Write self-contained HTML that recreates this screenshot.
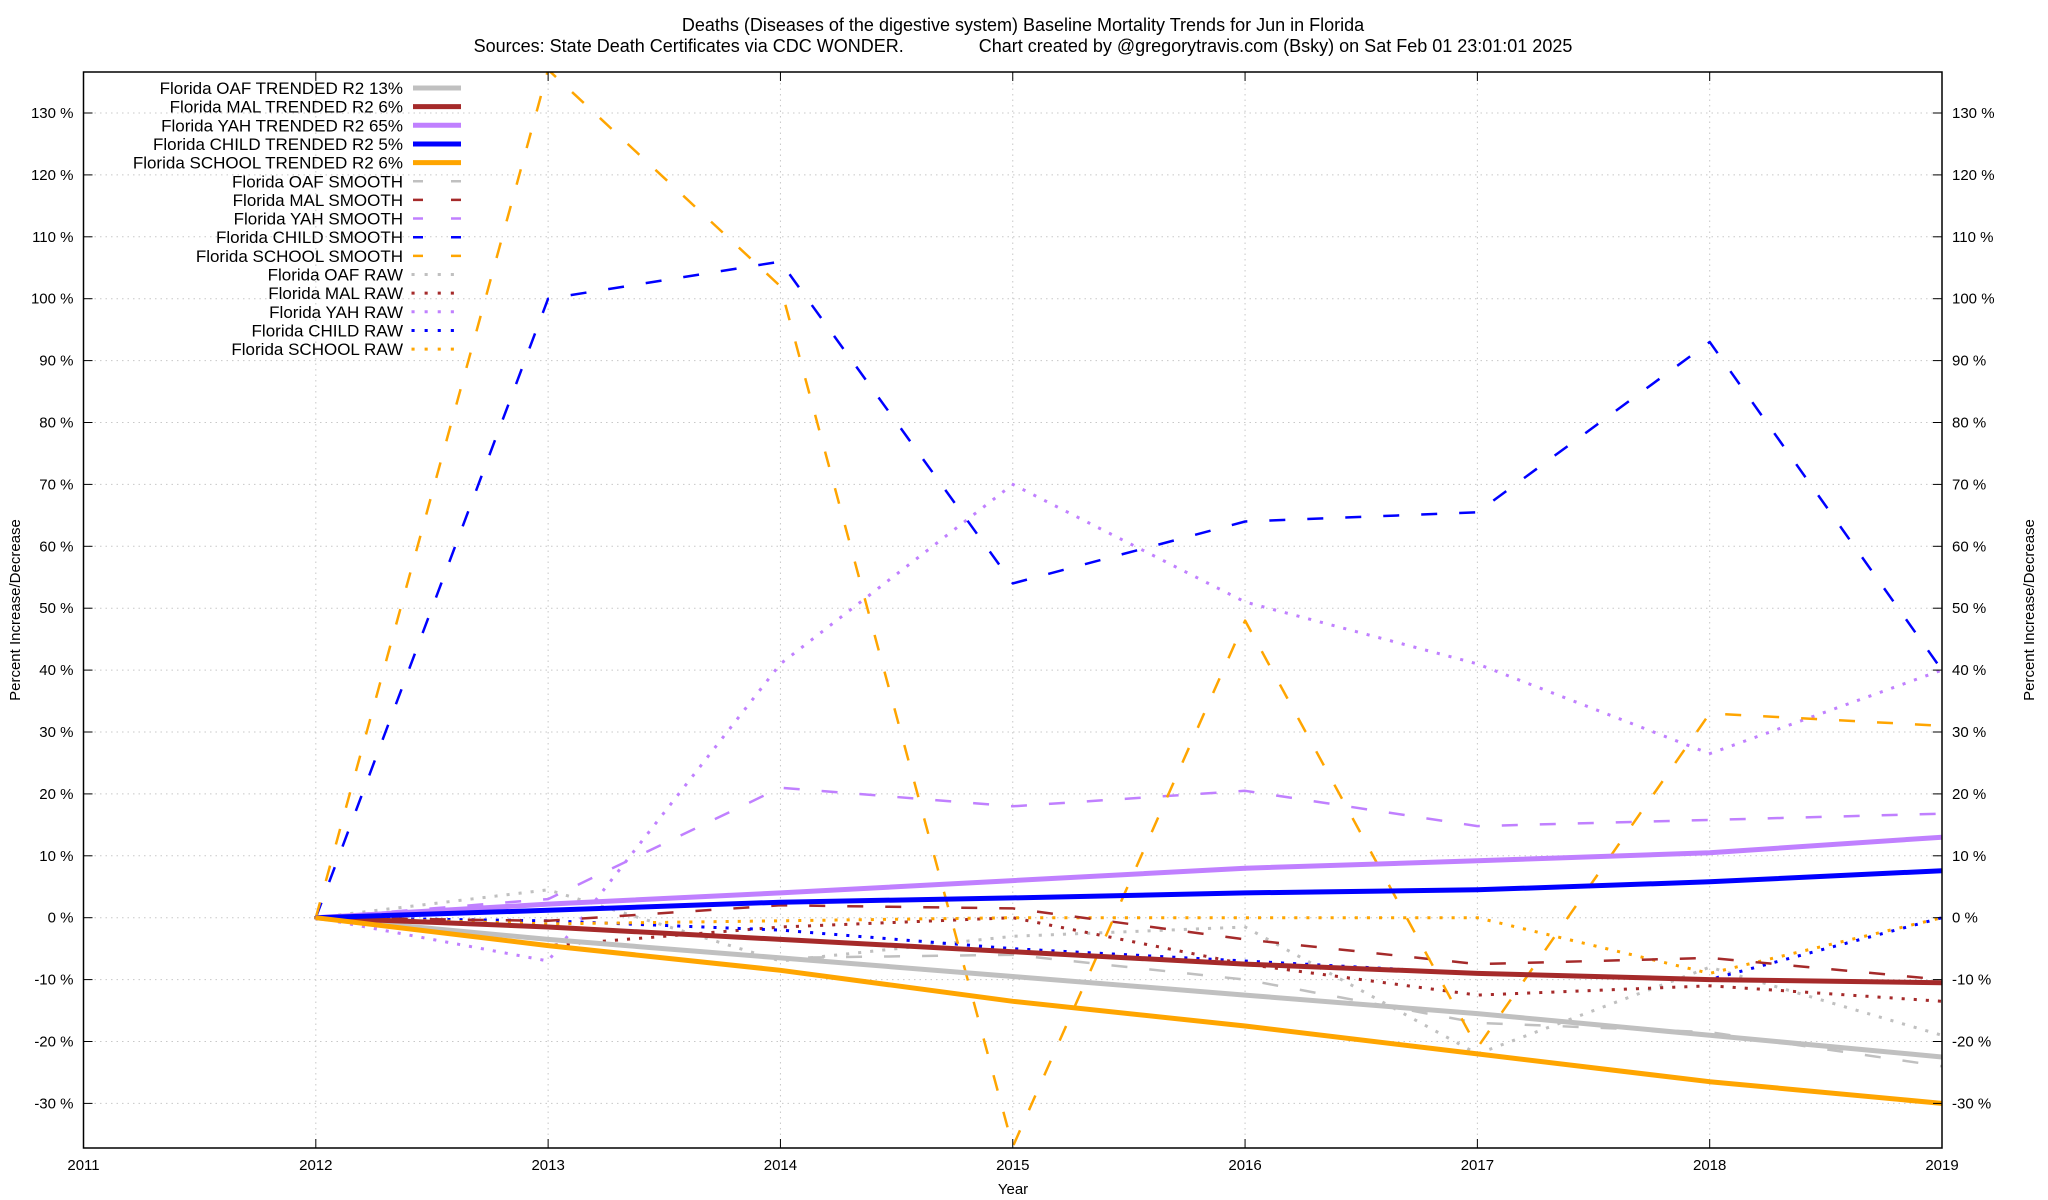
<!DOCTYPE html>
<html><head><meta charset="utf-8"><style>
html,body{margin:0;padding:0;background:#fff;}
svg{display:block;font-family:"Liberation Sans",Arial,sans-serif;}
</style></head><body>
<svg id="chart" width="2048" height="1200" viewBox="0 0 2048 1200" xmlns="http://www.w3.org/2000/svg">
<text x="1023" y="31" font-size="18" text-anchor="middle">Deaths (Diseases of the digestive system)  Baseline Mortality Trends for Jun in Florida</text>
<text x="1023" y="52" font-size="18" text-anchor="middle" xml:space="preserve">Sources: State Death Certificates via CDC WONDER.               Chart created by @gregorytravis.com (Bsky) on Sat Feb 01 23:01:01 2025</text>
<text x="1013" y="1194" font-size="15" text-anchor="middle">Year</text>
<text transform="translate(20,610) rotate(-90)" font-size="15" text-anchor="middle">Percent Increase/Decrease</text>
<text transform="translate(2034,610) rotate(-90)" font-size="15" text-anchor="middle">Percent Increase/Decrease</text>
<g id="grid"></g><g id="series"></g><g id="axes"></g><g id="legend"></g>
</svg>
<script>
const years = [2012,2013,2014,2015,2016,2017,2018,2019];
const xTicks = [2011,2012,2013,2014,2015,2016,2017,2018,2019];
const yTicks = [-30,-20,-10,0,10,20,30,40,50,60,70,80,90,100,110,120,130];
const names = ["Florida OAF TRENDED R2  13%","Florida MAL TRENDED R2   6%","Florida YAH TRENDED R2  65%","Florida CHILD TRENDED R2   5%","Florida SCHOOL TRENDED R2   6%","Florida OAF SMOOTH","Florida MAL SMOOTH","Florida YAH SMOOTH","Florida CHILD SMOOTH","Florida SCHOOL SMOOTH","Florida OAF RAW","Florida MAL RAW","Florida YAH RAW","Florida CHILD RAW","Florida SCHOOL RAW"];
const oafTrend = [0,-3.5,-6.5,-9.5,-12.5,-15.5,-19,-22.5];
const malTrend = [0,-1.5,-3.5,-5.5,-7.5,-9,-10,-10.5];
const yahTrend = [0,2.2,4,6,8,9.2,10.5,13];
const childTrend = [0,1.2,2.5,3.2,4,4.5,5.8,7.6];
const schoolTrend = [0,-4.5,-8.5,-13.5,-17.5,-22,-26.5,-30];
const oafSmooth = [0,-3.5,-6.5,-6,-10,-17,-18.5,-24];
const malSmooth = [0,-0.5,2,1.5,-3.5,-7.5,-6.5,-10];
const yahSmooth = [0,3,21,18,20.5,14.8,15.8,16.8];
const childSmooth = [0,100,106,54,64,65.5,93,40];
const schoolSmooth = [0,137,102,-37,48,-21,33,31];
const oafRaw = [0,4.5,-7,-3,-1.5,-22,-8,-19];
const malRaw = [0,-4.5,-1.5,0,-7.5,-12.5,-11,-13.5];
const yahRaw = [0,-7,41,70,51,41,26.5,40];
const childRaw = [0,-0.5,-2,-5,-7,-9,-10,0];
const schoolRaw = [0,-1,-0.5,0,0,0,-9,0];

const NS="http://www.w3.org/2000/svg";
const L=83.5,R=1942,T=72,B=1148,Y0=917.7,PY=6.19;
const xS=v=>L+(v-2011)*(R-L)/8;
const yS=v=>Y0-v*PY;
function mk(tag,attrs,parent){const e=document.createElementNS(NS,tag);for(const k in attrs)e.setAttribute(k,attrs[k]);parent.appendChild(e);return e;}
const grid=document.getElementById('grid'),axes=document.getElementById('axes'),ser=document.getElementById('series'),leg=document.getElementById('legend');
yTicks.forEach(v=>{
  const y=yS(v);
  const g=mk('line',{x1:L,x2:R,y1:y,y2:y,stroke:'#c8c8c8','stroke-width':1,'stroke-dasharray':'1.5,4'},grid);
  
  
  mk('line',{x1:L,x2:L+9,y1:y,y2:y,stroke:'#000'},axes);
  mk('line',{x1:R-9,x2:R,y1:y,y2:y,stroke:'#000'},axes);
  const t1=mk('text',{x:L-10,y:y+5,'font-size':15,'text-anchor':'end'},axes);t1.textContent=v+' %';
  
  
  const t2=mk('text',{x:R+10,y:y+5,'font-size':15},axes);t2.textContent=v+' %';
  
  
});
xTicks.forEach(v=>{
  const x=xS(v);
  const g=mk('line',{x1:x,x2:x,y1:T,y2:B,stroke:'#c8c8c8','stroke-width':1,'stroke-dasharray':'1.5,4'},grid);
  
  
  mk('line',{x1:x,x2:x,y1:B,y2:B-9,stroke:'#000'},axes);
  mk('line',{x1:x,x2:x,y1:T,y2:T+9,stroke:'#000'},axes);
  const t=mk('text',{x:x,y:B+22,'font-size':15,'text-anchor':'middle'},axes);t.textContent=v;
  
  
});
const fr=mk('rect',{x:L,y:T,width:R-L,height:B-T,fill:'none',stroke:'#000','stroke-width':1.5},axes);


const cols=['#c0c0c0','#a52a2a','#c080ff','#0000ff','#ffa500'];
const data=[oafTrend,malTrend,yahTrend,childTrend,schoolTrend,oafSmooth,malSmooth,yahSmooth,childSmooth,schoolSmooth,oafRaw,malRaw,yahRaw,childRaw,schoolRaw];
const styles=[{w:5,d:null},{w:2.5,d:'16,22'},{w:3,d:'0.1,12'}];
mk('clipPath',{id:'clip'},ser).appendChild((()=>{const r=document.createElementNS(NS,'rect');r.setAttribute('x',L);r.setAttribute('y',T);r.setAttribute('width',R-L);r.setAttribute('height',B-T);return r;})());
const order=[10,11,12,13,14,5,6,7,8,9,0,1,2,3,4];
order.forEach(i=>{
  const st=styles[Math.floor(i/5)],c=cols[i%5];
  const pts=years.map((yr,j)=>xS(yr).toFixed(1)+','+yS(data[i][j]).toFixed(1)).join(' ');
  const a={points:pts,fill:'none',stroke:c,'stroke-width':st.w,'clip-path':'url(#clip)','stroke-linejoin':'round'};
  if(st.d){a['stroke-dasharray']=st.d;a['stroke-linecap']=i>=10?'square':'butt';}
  const p=mk('polyline',a,ser);
  
  
});
names.forEach((n,i)=>{
  const y=88+i*18.65;
  const st=styles[Math.floor(i/5)],c=cols[i%5];
  const t=mk('text',{x:403,y:y+6,'font-size':17,'text-anchor':'end','xml:space':'preserve'},leg);t.textContent=n;
  
  
  const a={x1:413,x2:461,y1:y,y2:y,stroke:c,'stroke-width':st.w};
  if(st.d){a['stroke-dasharray']=i>=10?'0.1,13':'10,28';if(i>=10)a['stroke-linecap']='square';}
  const s=mk('line',a,leg);
  
  
});
</script>
</body></html>
